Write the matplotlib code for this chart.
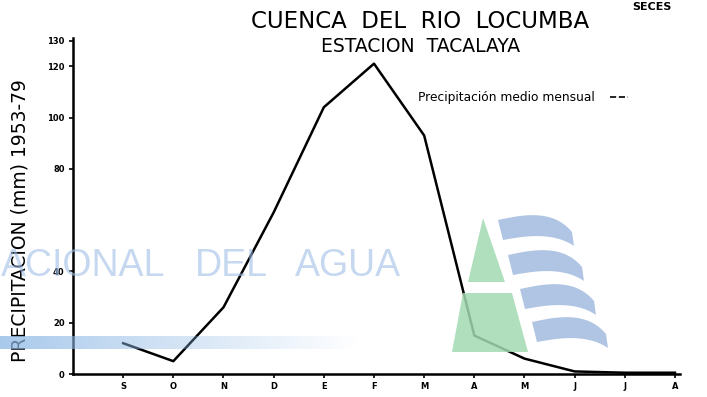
import matplotlib.pyplot as plt
import numpy as np
from matplotlib.patches import Polygon

# precipitacion media mensual, estacion Tacalaya (1953-79)
meses = ['S', 'O', 'N', 'D', 'E', 'F', 'M', 'A', 'M', 'J', 'J', 'A']
precip = [12, 5, 26, 63, 104, 121, 93, 15, 6, 1, 0.5, 0.5]
y_ticks = [0, 20, 40, 80, 100, 120, 130]


def draw_watermark(fig):
    # marca de agua del escaneo, en coordenadas de pixel
    wm = fig.add_axes([0, 0, 1, 1], zorder=5)
    wm.set_xlim(0, 707)
    wm.set_ylim(397, 0)
    wm.axis('off')
    wm.patch.set_alpha(0)

    # franja azul con degradado
    grad = np.zeros((1, 256, 4))
    grad[..., 0] = 0.55
    grad[..., 1] = 0.72
    grad[..., 2] = 0.90
    grad[..., 3] = np.linspace(0.75, 0, 256)
    wm.imshow(grad, extent=(0, 360, 349, 336), aspect='auto', interpolation='bilinear')

    for txt, xpos in [('ACIONAL', 1), ('DEL', 195), ('AGUA', 295)]:
        wm.text(xpos, 266, txt, color='#9fbfe6', alpha=0.6,
                fontsize=27, family='Liberation Sans', va='center', ha='left')

    # triangulo verde
    verde = '#a3dab2'
    wm.add_patch(Polygon([(483, 218), (468, 282), (505, 282)], closed=True,
                         color=verde, alpha=0.85, lw=0))
    wm.add_patch(Polygon([(463, 293), (452, 352), (528, 352), (512, 293)], closed=True,
                         color=verde, alpha=0.85, lw=0))

    # ondas azules
    t = np.linspace(0, 1, 50)
    bandas = [(498, 220), (508, 255), (520, 289), (532, 322)]
    for x0, y0 in bandas:
        top_x = x0 + 74 * t
        top_y = y0 - 5 * np.sin(np.pi * t) + 12 * t ** 6
        bot_x = x0 + 5 + 71 * t
        bot_y = y0 + 20 - 4 * np.sin(np.pi * t) + 6 * t ** 6
        pts = list(zip(top_x, top_y)) + list(zip(bot_x[::-1], bot_y[::-1]))
        wm.add_patch(Polygon(pts, closed=True, color='#a7bfe0', alpha=0.9, lw=0))


def main():
    fig = plt.figure(figsize=(7.07, 3.97), dpi=100)
    ax = fig.add_axes([73 / 707, 23 / 397, 607 / 707, 336 / 397])

    x = np.arange(len(meses))
    ax.plot(x, precip, color='black', lw=1.8)

    ax.set_xlim(-1, 11.1)
    ax.set_ylim(0, 131)
    ax.set_xticks(x)
    ax.set_xticklabels(meses, fontsize=6, fontweight='bold')
    ax.set_yticks(y_ticks)
    ax.set_yticklabels([str(v) for v in y_ticks], fontsize=6, fontweight='bold')
    ax.tick_params(axis='both', length=3, width=1.2, pad=3)
    for side in ['top', 'right']:
        ax.spines[side].set_visible(False)
    ax.spines['left'].set_linewidth(1.8)
    ax.spines['bottom'].set_linewidth(1.8)

    fig.text(0.028, 0.445, 'PRECIPITACION (mm) 1953-79', rotation=90,
             fontsize=13.5, ha='center', va='center')
    fig.text(420 / 707, 1 - 22 / 397, 'CUENCA  DEL  RIO  LOCUMBA',
             fontsize=16.5, ha='center', va='center')
    fig.text(421 / 707, 1 - 46 / 397, 'ESTACION  TACALAYA',
             fontsize=13.5, ha='center', va='center')
    fig.text(418 / 707, 1 - 97 / 397, 'Precipitación medio mensual',
             fontsize=8.8, ha='left', va='center')
    fig.lines.append(plt.Line2D([610 / 707, 628 / 707], [1 - 97 / 397, 1 - 97 / 397],
                                transform=fig.transFigure, color='black', lw=1.2, ls='--'))
    fig.text(652 / 707, 1 - 7 / 397, 'SECES', fontsize=8, fontweight='bold',
             ha='center', va='center')

    draw_watermark(fig)

    fig.savefig('out.png', dpi=100)


if __name__ == '__main__':
    main()
